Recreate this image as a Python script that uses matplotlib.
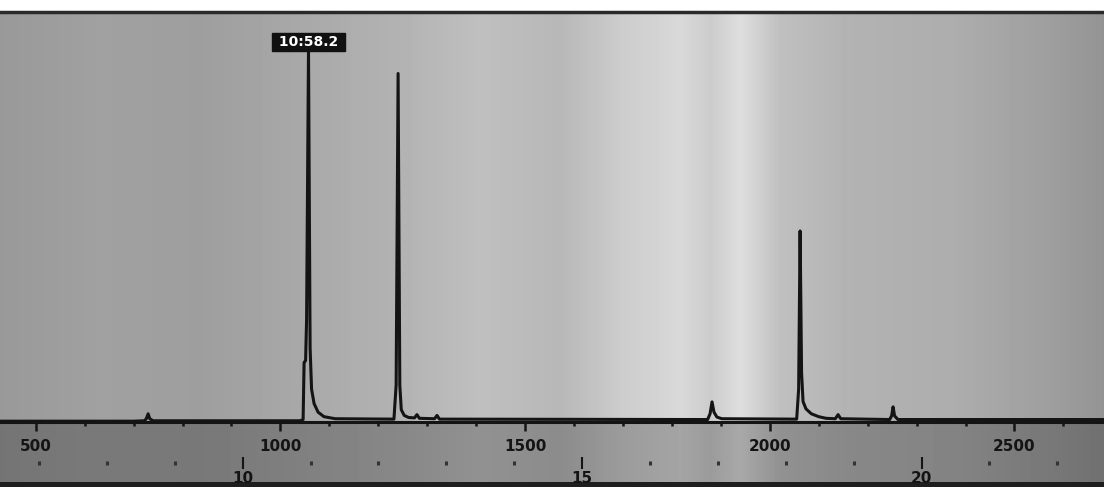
import numpy as np
import matplotlib.pyplot as plt
from matplotlib.ticker import MultipleLocator

# retention index range shown on the upper scale
ri_limits = (427, 2683)
ri_major = [500, 1000, 1500, 2000, 2500]
# elution time labels (min) on the lower scale
time_major = [10, 15, 20]

# detector trace: retention index vs response (% of full scale)
trace_ri = [427, 700, 722, 726, 729.7, 733, 740, 1040, 1046.4, 1048.4, 1051.5,
            1053.5, 1057.4, 1060.7, 1063.7, 1068.8, 1077, 1089, 1112, 1232,
            1236.5, 1240.5, 1244, 1247, 1253, 1262, 1274, 1279, 1284, 1315,
            1320, 1325, 1873, 1878, 1882, 1886, 1892, 1902, 2055, 2059, 2062,
            2065, 2068, 2074, 2085, 2100, 2115, 2134, 2139.6, 2145, 2245,
            2249, 2252, 2255, 2262, 2683]
trace_sig = [0.2, 0.2, 0.3, 0.8, 2.0, 0.8, 0.3, 0.3, 0.6, 14.5, 15.0,
             25.0, 90.6, 18.0, 8.0, 4.5, 2.4, 1.3, 0.8, 0.7,
             9.0, 85.0, 9.0, 3.0, 1.6, 1.1, 1.0, 1.8, 0.9, 0.8,
             1.6, 0.7, 0.6, 2.0, 4.9, 2.4, 1.2, 0.8, 0.7, 8.0, 46.6,
             12.0, 5.0, 3.2, 2.0, 1.3, 0.9, 0.8, 1.8, 0.8, 0.6,
             1.5, 3.7, 1.5, 0.6, 0.6]


# calibration between retention index and elution time (min)
def ri_to_min(ri):
    px = 525 + 0.4894 * (np.asarray(ri, dtype=float) - 1500)
    return 15 + (px - 582) / 67.9


def min_to_ri(t):
    px = 582 + 67.9 * (np.asarray(t, dtype=float) - 15)
    return 1500 + (px - 525) / 0.4894


W, H = 1104, 487
fig = plt.figure(figsize=(W / 100, H / 100), dpi=100)

# scanned paper background, brighter towards the middle
bg = fig.add_axes([0, 0, 1, 1], zorder=0)
col_x = [0, 100, 200, 300, 400, 480, 560, 620, 680, 710, 740, 780, 850, 950, 1050, 1104]
col_v = [0.60, 0.63, 0.62, 0.66, 0.70, 0.75, 0.72, 0.80, 0.85, 0.80, 0.87, 0.75, 0.70, 0.68, 0.62, 0.58]
col = np.interp(np.arange(W), col_x, col_v)
row = np.ones(H)
row[422:] = 0.76
img = np.outer(row, col)
img[:11] = 1.0
img[482:] = 0.12
bg.imshow(img, cmap='gray', vmin=0, vmax=1, extent=(0, W, H, 0),
          aspect='auto', interpolation='bilinear')
bg.set_xlim(0, W)
bg.set_ylim(H, 0)
bg.axis('off')

ink = '#141414'
ax = fig.add_axes([0, 65 / H, 1, 410 / H], zorder=1)
ax.patch.set_visible(False)
ax.plot(trace_ri, trace_sig, color=ink, lw=2.2, solid_joinstyle='round')
ax.set_xlim(*ri_limits)
ax.set_ylim(0, 100)

for side in ['left', 'right']:
    ax.spines[side].set_visible(False)
ax.spines['top'].set_color('#2a2a2a')
ax.spines['top'].set_linewidth(2.5)
ax.spines['bottom'].set_color(ink)
ax.spines['bottom'].set_linewidth(2.2)
ax.set_yticks([])

ax.set_xticks(ri_major)
ax.xaxis.set_minor_locator(MultipleLocator(100))
ax.tick_params(axis='x', which='major', direction='out', length=6.5, width=1.8,
               color=ink, pad=5.4, labelsize=11, labelcolor=ink)
ax.tick_params(axis='x', which='minor', direction='out', length=3, width=1.8, color=ink)
for lab in ax.get_xticklabels():
    lab.set_fontweight('bold')

# elution time scale underneath
sec = ax.secondary_xaxis(-0.1, functions=(ri_to_min, min_to_ri))
sec.spines['bottom'].set_visible(False)
sec.set_xticks(time_major)
sec.xaxis.set_minor_locator(MultipleLocator(1))
sec.tick_params(axis='x', which='major', direction='inout', length=8, width=1.5,
                color=ink, pad=1.5, labelsize=11, labelcolor=ink)
sec.tick_params(axis='x', which='minor', direction='inout', length=2.2, width=2.2,
                color='#333333')
for lab in sec.get_xticklabels():
    lab.set_fontweight('bold')

# retention time flag on the tallest peak
top = int(np.argmax(trace_sig))
t = float(ri_to_min(trace_ri[top]))
mins = int(t)
label = f"{mins}:{(t - mins) * 60:04.1f}"
ax.annotate(' ' + label + ' ', xy=(trace_ri[top], trace_sig[top]), xytext=(0, 1),
            textcoords='offset points', ha='center', va='bottom',
            color='white', fontsize=10, fontweight='bold',
            bbox=dict(boxstyle='square,pad=0.15', fc='#111111', ec='#111111'))

fig.savefig('out.png', dpi=100)
